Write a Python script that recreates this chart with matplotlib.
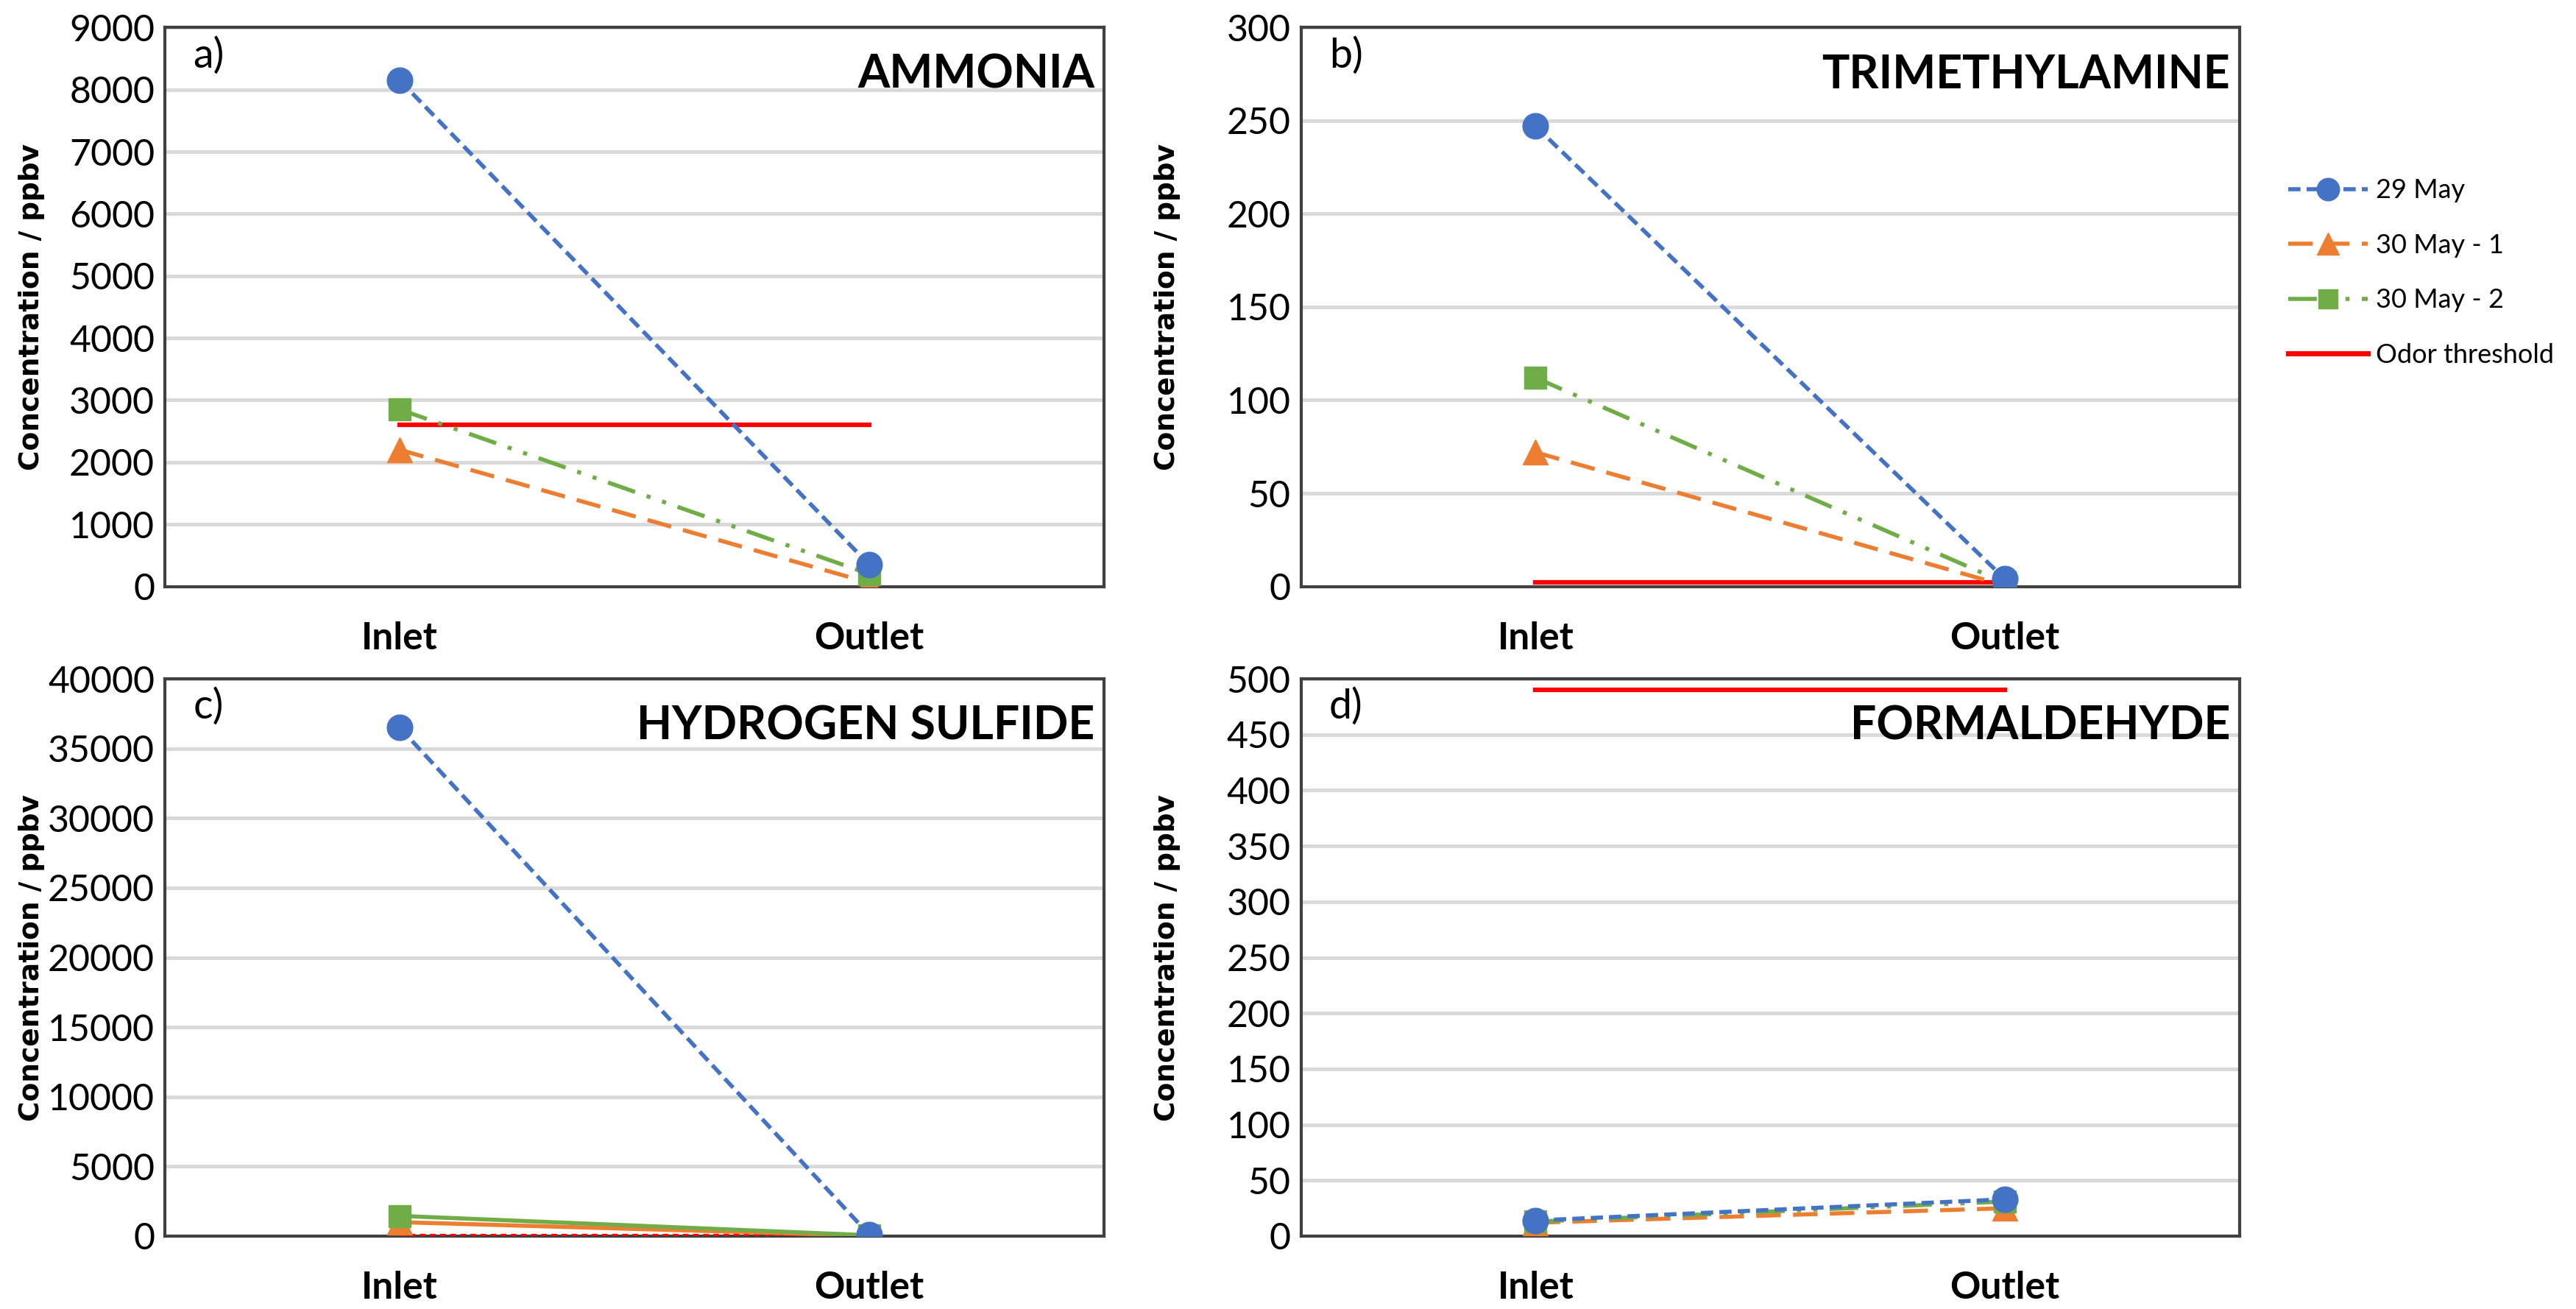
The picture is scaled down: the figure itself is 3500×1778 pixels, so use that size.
import matplotlib
matplotlib.use("Agg")
import matplotlib.pyplot as plt
from matplotlib.lines import Line2D

# categories
sites = ["Inlet", "Outlet"]

# values (ppbv)
ammonia_29may = [8150, 350]
ammonia_30may1 = [2200, 60]
ammonia_30may2 = [2850, 200]
ammonia_thr = [2600, 2600]

tma_29may = [247, 4]
tma_30may1 = [72, 0.5]
tma_30may2 = [112, 2]
tma_thr = [2, 2]

h2s_29may = [36500, 100]
h2s_30may1 = [1000, 30]
h2s_30may2 = [1450, 60]
h2s_thr = [0.5, 0.5]

form_29may = [14, 33]
form_30may1 = [12, 25]
form_30may2 = [13, 31]
form_thr = [490, 490]

names = ["AMMONIA", "TRIMETHYLAMINE", "HYDROGEN SULFIDE", "FORMALDEHYDE"]
tags = ["a)", "b)", "c)", "d)"]
ymax = [9000, 300, 40000, 500]
ystep = [1000, 50, 5000, 50]

blue = "#4472C4"
orange = "#ED7D31"
green = "#70AD47"
red = "#FF0000"
narrow = ["Lato", "DejaVu Sans"]

fig = plt.figure(figsize=(35, 17.78), dpi=100)

boxes = [(0.064, 0.552, 0.3646, 0.427),
         (0.505, 0.552, 0.3644, 0.427),
         (0.064, 0.0557, 0.3646, 0.4257),
         (0.505, 0.0557, 0.3644, 0.4257)]

data = [(ammonia_29may, ammonia_30may1, ammonia_30may2, ammonia_thr),
        (tma_29may, tma_30may1, tma_30may2, tma_thr),
        (h2s_29may, h2s_30may1, h2s_30may2, h2s_thr),
        (form_29may, form_30may1, form_30may2, form_thr)]

x = [0, 1]
for i in range(4):
    ax = fig.add_axes(boxes[i])
    s1, s2, s3, thr = data[i]
    # panel c has solid lines for the two 30 May series and a dotted threshold
    if i == 2:
        ls2, ls3, lsr = "-", "-", (0, (1.2, 1.0))
    else:
        ls2, ls3, lsr = (0, (6, 3)), (0, (7, 3, 1, 3, 1, 3)), "-"
    ax.plot(x, thr, color=red, lw=4.5, ls=lsr, zorder=3)
    ax.plot(x, s2, color=orange, lw=4, ls=ls2, marker="^", ms=24, zorder=4)
    ax.plot(x, s3, color=green, lw=4, ls=ls3, marker="s", ms=22, zorder=4)
    ax.plot(x, s1, color=blue, lw=4, ls=(0, (3, 1.5)), marker="o", ms=25, zorder=5)

    ax.set_xlim(-0.5, 1.5)
    ax.set_ylim(0, ymax[i])
    ax.set_yticks(range(0, ymax[i] + 1, ystep[i]))
    ax.set_xticks(x)
    ax.set_xticklabels(sites, fontsize=37, fontweight="bold", family=narrow)
    ax.tick_params(axis="x", length=0, pad=34)
    ax.tick_params(axis="y", length=0, pad=10, labelsize=36)
    for lab in ax.get_yticklabels():
        lab.set_family(narrow)
    ax.grid(axis="y", color="#D9D9D9", lw=3.5)
    ax.set_axisbelow(True)
    for sp in ax.spines.values():
        sp.set_color("#404040")
        sp.set_linewidth(3)
    ax.set_ylabel("Concentration / ppbv", fontsize=27, fontweight="bold")
    ax.yaxis.set_label_coords(-0.128, 0.5)
    ax.text(0.99, 0.915, names[i], transform=ax.transAxes, ha="right", va="center",
            fontsize=45, fontweight="bold", family=narrow)
    ax.text(0.03, 0.95, tags[i], transform=ax.transAxes, ha="left", va="center",
            fontsize=40, family=narrow)

handles = [
    Line2D([], [], color=blue, lw=4, ls=(0, (3, 1.5)), marker="o", ms=22),
    Line2D([], [], color=orange, lw=4, ls=(0, (6, 3)), marker="^", ms=21),
    Line2D([], [], color=green, lw=4, ls=(0, (7, 3, 1, 3, 1, 3)), marker="s", ms=19),
    Line2D([], [], color=red, lw=5),
]
labels = ["29 May", "30 May - 1", "30 May - 2", "Odor threshold"]
leg = fig.legend(handles, labels, loc="upper left", bbox_to_anchor=(0.879, 0.882),
                 frameon=False, handlelength=3.0, labelspacing=1.15,
                 handletextpad=0.3, prop={"family": narrow, "size": 26})

fig.savefig("out.png", dpi=100)
